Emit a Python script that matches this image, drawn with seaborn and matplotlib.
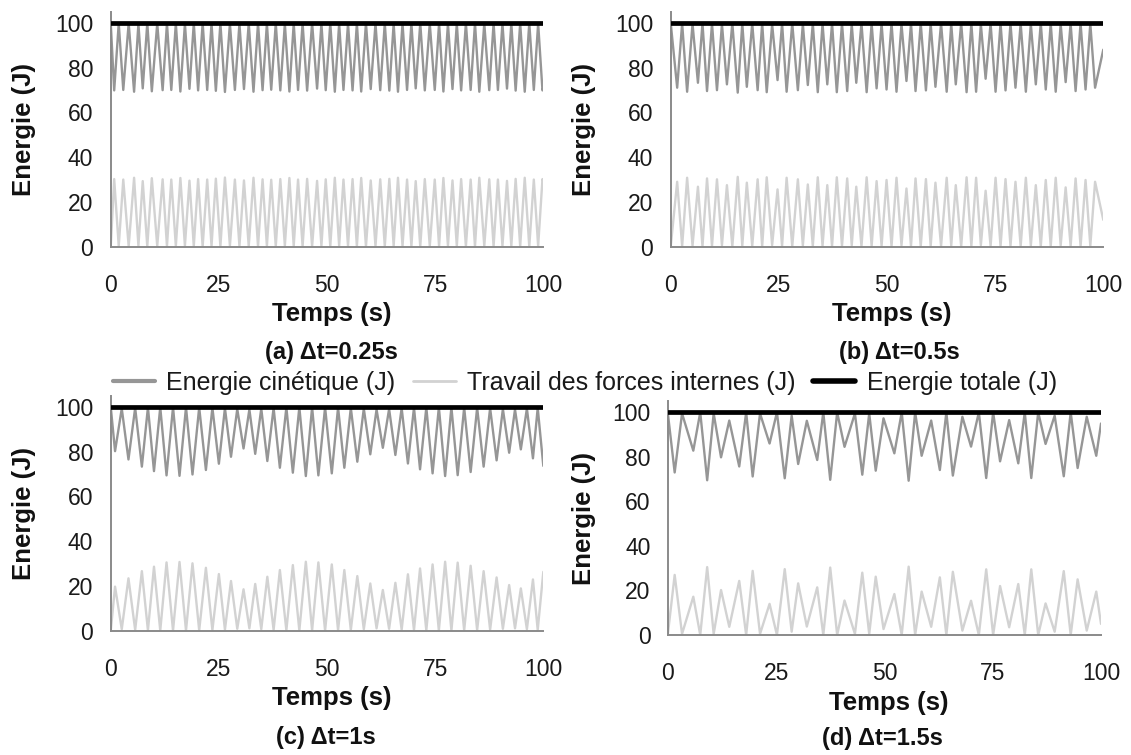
import matplotlib
matplotlib.use("Agg")
import matplotlib.pyplot as plt
from matplotlib.lines import Line2D
import numpy as np
import pandas as pd
import seaborn as sns

# ---------------- data ----------------
TOTAL_ENERGY = 100.0
total_t = [0, 100]
total_e = [100, 100]

# (a) dt = 0.25 s : work of internal forces, peaks and troughs
a_peak_t = [0.8, 2.9, 5.4, 7.4, 9.5, 12.0, 14.0, 16.1, 18.2, 20.2, 22.3, 24.3, 26.4, 28.7, 30.8, 33.0,
            35.1, 37.1, 39.2, 41.3, 43.3, 45.4, 47.7, 49.7, 51.8, 53.8, 55.9, 57.9, 60.1, 62.3, 64.4, 66.4,
            68.5, 70.5, 72.6, 74.9, 76.9, 79.0, 81.0, 83.2, 85.2, 87.5, 89.5, 91.6, 93.6, 95.7, 97.8, 99.8]
a_peak_w = [30.2, 30.0, 30.8, 29.3, 30.6, 30.1, 30.0, 30.7, 29.5, 30.2, 30.0, 30.4, 30.9, 30.0, 29.6, 30.8,
            30.1, 29.9, 30.2, 30.7, 30.0, 30.3, 29.4, 30.1, 30.8, 30.0, 30.2, 30.7, 29.6, 30.1, 30.3, 30.8,
            30.0, 29.3, 30.2, 30.0, 30.7, 29.6, 30.2, 30.0, 30.8, 30.1, 30.0, 29.4, 30.3, 30.8, 30.0, 30.2]
a_trough_t = [0.0, 1.85, 4.15, 6.4, 8.45, 10.75, 13.0, 15.05, 17.15, 19.2, 21.25, 23.3, 25.35, 27.55, 29.75,
              31.9, 34.05, 36.1, 38.15, 40.25, 42.3, 44.35, 46.55, 48.7, 50.75, 52.8, 54.85, 56.9, 59.0, 61.2,
              63.35, 65.4, 67.45, 69.5, 71.55, 73.75, 75.9, 77.95, 80.0, 82.1, 84.2, 86.35, 88.5, 90.55,
              92.6, 94.65, 96.75, 98.8, 100.0]
a_trough_w = [0.0, 0.3, 0.2, 0.4, 0.1, 0.3, 0.2, 0.3, 0.4, 0.2, 0.1, 0.3, 0.2, 0.4, 0.3, 0.2, 0.1, 0.3, 0.2,
              0.4, 0.3, 0.2, 0.1, 0.3, 0.2, 0.4, 0.3, 0.2, 0.1, 0.3, 0.2, 0.4, 0.3, 0.2, 0.1, 0.3, 0.2, 0.4,
              0.3, 0.2, 0.1, 0.3, 0.2, 0.4, 0.3, 0.2, 0.1, 0.3, 29.0]

# (b) dt = 0.5 s
b_peak_t = [1.5, 3.8, 6.3, 8.4, 10.7, 13.0, 15.5, 17.6, 20.1, 22.2, 24.7, 26.8, 29.4, 31.7, 34.0, 36.2,
            38.4, 40.8, 42.9, 45.3, 47.6, 49.9, 52.2, 54.5, 56.6, 59.0, 61.2, 63.8, 65.9, 68.4, 70.6, 72.8,
            75.1, 77.4, 79.7, 82.1, 84.4, 86.7, 89.0, 91.3, 93.6, 95.9, 98.1]
b_peak_w = [29.0, 30.8, 26.8, 30.5, 30.1, 27.5, 31.2, 28.6, 30.1, 31.0, 25.6, 30.8, 30.1, 27.8, 31.0, 27.5,
            31.0, 30.5, 26.8, 31.0, 29.3, 29.8, 30.8, 26.0, 30.5, 30.2, 28.6, 30.8, 27.5, 31.0, 30.8, 25.0,
            30.8, 30.2, 29.0, 30.8, 27.5, 29.8, 30.8, 26.5, 30.5, 29.8, 29.0]
b_trough_t = [0.0, 2.65, 5.05, 7.35, 9.55, 11.85, 14.25, 16.55, 18.85, 21.15, 23.45, 25.75, 28.1, 30.55,
              32.85, 35.1, 37.3, 39.6, 41.85, 44.1, 46.45, 48.75, 51.05, 53.35, 55.55, 57.8, 60.1, 62.5,
              64.85, 67.15, 69.5, 71.7, 73.95, 76.25, 78.55, 80.9, 83.25, 85.55, 87.85, 90.15, 92.45, 94.75,
              97.0, 100.0]
b_trough_w = [0.0, 0.3, 0.5, 0.2, 0.3, 0.6, 0.2, 0.4, 0.3, 0.2, 0.7, 0.3, 0.2, 0.5, 0.3, 0.4, 0.2, 0.3, 0.6,
              0.2, 0.3, 0.4, 0.2, 0.6, 0.3, 0.2, 0.4, 0.3, 0.5, 0.2, 0.3, 0.7, 0.3, 0.2, 0.4, 0.3, 0.5, 0.2,
              0.3, 0.6, 0.3, 0.2, 0.4, 12.0]

# (c) dt = 1 s
c_peak_t = [1.0, 4.1, 7.2, 10.0, 12.9, 15.9, 18.9, 22.0, 25.0, 27.8, 30.7, 33.4, 36.2, 39.1, 42.1, 45.1,
            48.0, 51.1, 54.0, 57.0, 60.0, 62.9, 65.8, 68.7, 71.5, 74.4, 77.3, 80.2, 83.2, 86.2, 89.2, 92.1,
            94.8, 97.6]
c_peak_w = [19.8, 23.5, 26.7, 28.7, 30.6, 30.8, 30.2, 28.2, 25.4, 22.3, 18.6, 21.0, 24.2, 27.2, 29.4, 30.9,
            30.6, 29.7, 27.2, 24.5, 21.2, 18.3, 21.5, 25.3, 27.9, 29.7, 30.9, 30.5, 29.1, 26.7, 23.9, 20.5,
            19.0, 23.0]
c_trough_t = [0.0, 2.55, 5.65, 8.6, 11.45, 14.4, 17.4, 20.45, 23.5, 26.4, 29.25, 32.05, 34.8, 37.65, 40.6,
              43.6, 46.55, 49.55, 52.55, 55.5, 58.5, 61.45, 64.35, 67.25, 70.1, 72.95, 75.85, 78.75, 81.7,
              84.7, 87.7, 90.65, 93.45, 96.2, 98.7, 100.0]
c_trough_w = [0.0, 0.8, 0.5, 0.3, 0.2, 0.2, 0.2, 0.3, 0.4, 0.6, 1.0, 1.2, 0.8, 0.5, 0.3, 0.2, 0.2, 0.2, 0.3,
              0.5, 0.8, 1.2, 1.0, 0.6, 0.4, 0.3, 0.2, 0.2, 0.3, 0.4, 0.6, 1.0, 1.2, 0.8, 0.5, 26.4]

# (d) dt = 1.5 s  (extremes in time order)
d_t = [0.0, 1.6, 3.3, 5.9, 7.5, 9.1, 10.6, 12.3, 14.2, 16.5, 18.1, 19.6, 21.3, 23.5, 25.2, 27.0, 28.6, 30.1,
       32.1, 34.5, 35.9, 37.5, 39.1, 40.8, 43.2, 44.9, 46.5, 48.0, 49.8, 52.3, 54.0, 55.6, 57.1, 58.6, 60.8,
       62.8, 64.3, 65.8, 68.0, 70.0, 71.8, 73.5, 75.1, 76.7, 78.8, 80.9, 82.4, 83.9, 85.5, 87.2, 89.3, 91.4,
       93.0, 94.6, 96.7, 98.9, 100.0]
d_w = [0.0, 27.0, 0.5, 17.2, 0.0, 30.5, 0.5, 20.2, 3.7, 24.3, 0.0, 28.8, 0.5, 14.0, 0.0, 29.6, 1.5, 23.2,
       3.8, 21.4, 0.0, 30.3, 0.0, 15.5, 0.5, 28.0, 0.5, 26.2, 2.7, 18.4, 0.0, 30.7, 0.0, 19.5, 3.7, 25.9,
       0.0, 28.4, 2.0, 15.4, 0.0, 29.5, 0.0, 22.0, 3.5, 22.9, 0.0, 29.5, 0.0, 14.2, 1.5, 28.7, 0.0, 25.0,
       2.0, 19.5, 5.0]

x_ticks = [0, 25, 50, 75, 100]
y_ticks = [0, 20, 40, 60, 80, 100]
captions = ["(a) \u0394t=0.25s", "(b) \u0394t=0.5s", "(c) \u0394t=1s", "(d) \u0394t=1.5s"]
legend_labels = ["Energie cin\u00e9tique (J)", "Travail des forces internes (J)", "Energie totale (J)"]

# ---------------- style ----------------
sns.set_style("white")
plt.rcParams["font.family"] = ["Liberation Sans", "DejaVu Sans"]

KIN_COLOR = "#969696"
WORK_COLOR = "#d2d2d2"
TOT_COLOR = "#000000"
AXIS_COLOR = "#8a8a8a"


def merged(pt, pw, tt, tw):
    df = pd.DataFrame({"t": list(pt) + list(tt), "W": list(pw) + list(tw)})
    return df.sort_values("t").reset_index(drop=True)


panels = [
    merged(a_peak_t, a_peak_w, a_trough_t, a_trough_w),
    merged(b_peak_t, b_peak_w, b_trough_t, b_trough_w),
    merged(c_peak_t, c_peak_w, c_trough_t, c_trough_w),
    pd.DataFrame({"t": d_t, "W": d_w}),
]

positions = [
    [0.0979, 0.6732, 0.3825, 0.3115],
    [0.5930, 0.6732, 0.3825, 0.3115],
    [0.0979, 0.1642, 0.3825, 0.3119],
    [0.5904, 0.1589, 0.3831, 0.3097],
]
caption_pos = [(0.2927, 0.5325), (0.7950, 0.5325), (0.2880, 0.0238), (0.7800, 0.0225)]
xlabel_y = [-0.233, -0.233, -0.235, -0.241]
ylabel_x = [-0.172, -0.172, -0.172, -0.165]

fig = plt.figure(figsize=(11.31, 7.55), dpi=100)

for i, df in enumerate(panels):
    ax = fig.add_axes(positions[i])
    df = df.copy()
    df["K"] = TOTAL_ENERGY - df["W"]
    sns.lineplot(data=df, x="t", y="K", ax=ax, color=KIN_COLOR, lw=1.7,
                 estimator=None, sort=False, zorder=2)
    sns.lineplot(data=df, x="t", y="W", ax=ax, color=WORK_COLOR, lw=1.7,
                 estimator=None, sort=False, zorder=2)
    sns.lineplot(x=total_t, y=total_e, ax=ax, color=TOT_COLOR, lw=3.4,
                 estimator=None, zorder=3)
    ax.set_xlim(0, 100)
    ax.set_ylim(0, 105)
    ax.set_xticks(x_ticks)
    ax.set_yticks(y_ticks)
    ax.tick_params(axis="both", direction="out", length=5.5, width=1.2, color=AXIS_COLOR,
                   labelsize=16.5, labelcolor="#1a1a1a")
    ax.tick_params(axis="x", pad=14)
    ax.tick_params(axis="y", pad=7)
    for s in ["top", "right"]:
        ax.spines[s].set_visible(False)
    for s in ["left", "bottom"]:
        ax.spines[s].set_color(AXIS_COLOR)
        ax.spines[s].set_linewidth(1.4)
    ax.set_xlabel("Temps (s)", fontsize=18.5, fontweight="bold", color="#111111")
    ax.set_ylabel("Energie (J)", fontsize=18.5, fontweight="bold", color="#111111")
    ax.xaxis.set_label_coords(0.51, xlabel_y[i])
    ax.yaxis.set_label_coords(ylabel_x[i], 0.5)
    ax.set_facecolor("white")
    fig.text(caption_pos[i][0], caption_pos[i][1], captions[i], ha="center", va="center",
             fontsize=17, fontweight="bold", color="#111111")

handles = [Line2D([], [], color=KIN_COLOR, lw=3),
           Line2D([], [], color=WORK_COLOR, lw=2),
           Line2D([], [], color=TOT_COLOR, lw=4)]
fig.legend(handles, legend_labels, loc="center", bbox_to_anchor=(0.517, 0.4927), ncol=3,
           frameon=False, fontsize=18, handlelength=1.7, handletextpad=0.45, columnspacing=0.7,
           labelcolor="#1a1a1a")

fig.savefig("out.png", dpi=100, facecolor="white")
